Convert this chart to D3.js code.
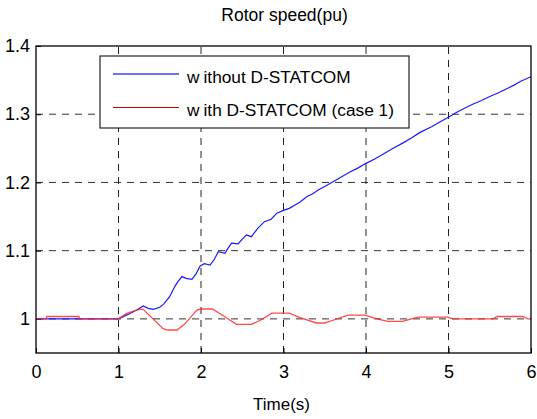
<!DOCTYPE html>
<html>
<head>
<meta charset="utf-8">
<script src="https://cdn.jsdelivr.net/npm/d3@7"></script>
<style>
  body { margin: 0; background: #fff; }
  text { font-family: "Liberation Sans", Arial, sans-serif; fill: #000; }
</style>
</head>
<body>
<div class="chart"></div>
<script>
// data
const timeBlue  = [0, 1.0, 1.07, 1.14, 1.22, 1.30, 1.36, 1.42, 1.50, 1.55, 1.62, 1.68, 1.72, 1.77, 1.82, 1.89, 1.94, 1.99, 2.04, 2.11, 2.16, 2.21, 2.29, 2.33, 2.37, 2.45, 2.50, 2.55, 2.61, 2.69, 2.77, 2.85, 2.92, 3.0, 3.07, 3.14, 3.21, 3.28, 3.35, 3.42, 3.5, 3.6, 3.7, 3.8, 3.9, 4.0, 4.1, 4.2, 4.33, 4.45, 4.55, 4.65, 4.8, 4.9, 5.0, 5.1, 5.2, 5.3, 5.4, 5.5, 5.6, 5.7, 5.8, 5.87, 6.0];
const speedBlue = [1.0, 1.0, 1.004, 1.008, 1.013, 1.019, 1.0155, 1.014, 1.017, 1.022, 1.0325, 1.047, 1.0545, 1.062, 1.0595, 1.058, 1.066, 1.0775, 1.081, 1.079, 1.087, 1.0985, 1.096, 1.104, 1.111, 1.11, 1.117, 1.123, 1.1205, 1.133, 1.1425, 1.146, 1.155, 1.159, 1.162, 1.167, 1.172, 1.179, 1.183, 1.189, 1.194, 1.201, 1.208, 1.215, 1.221, 1.228, 1.234, 1.241, 1.25, 1.258, 1.265, 1.273, 1.282, 1.289, 1.2955, 1.303, 1.309, 1.315, 1.32, 1.326, 1.331, 1.337, 1.343, 1.348, 1.355];

const timeRed  = [0, 0.12, 0.13, 0.52, 0.53, 1.0, 1.1, 1.2, 1.26, 1.3, 1.54, 1.60, 1.71, 1.8, 1.95, 2.0, 2.14, 2.25, 2.43, 2.61, 2.72, 2.86, 3.07, 3.2, 3.4, 3.5, 3.6, 3.78, 3.99, 4.1, 4.26, 4.44, 4.63, 4.99, 5.05, 5.54, 5.59, 5.9, 5.96, 6.0];
const speedRed = [1.0, 1.0, 1.0035, 1.0035, 1.0, 1.0, 1.008, 1.012, 1.0140, 1.0140, 0.9856, 0.9837, 0.9837, 0.992, 1.013, 1.0145, 1.0145, 1.006, 0.992, 0.992, 0.998, 1.0085, 1.0085, 1.002, 0.994, 0.994, 0.998, 1.0056, 1.0056, 1.001, 0.9965, 0.9965, 1.0025, 1.0025, 1.0, 1.0, 1.0035, 1.0035, 1.0, 1.0];

const xTicks = [0, 1, 2, 3, 4, 5, 6];
const yTicks = [1, 1.1, 1.2, 1.3, 1.4];
const seriesNames = ["without D-STATCOM", "with D-STATCOM (case 1)"];

// chart setup
let margin = {top: 46, right: 6, left: 36, bottom: 66};
let outWidth = 537, outHeight = 419;
let width = outWidth - margin.left - margin.right,
    height = outHeight - margin.top - margin.bottom;

const svg = d3.select(".chart").append("svg")
    .attr("width", outWidth)
    .attr("height", outHeight);

const g = svg.append("g")
    .attr("transform", `translate(${margin.left}, ${margin.top})`);

let xScale = d3.scaleLinear().domain([0, 6]).range([0, width]);
let yScale = d3.scaleLinear().domain([0.95, 1.4]).range([height, 0]);

// dashed grid
g.append("g").selectAll("line")
    .data(xTicks.slice(1, -1))
    .enter().append("line")
    .attr("x1", d => xScale(d)).attr("x2", d => xScale(d))
    .attr("y1", height).attr("y2", 0)
    .attr("stroke", "#222").attr("stroke-dasharray", "7,6");

g.append("g").selectAll("line")
    .data(yTicks.slice(0, -1))
    .enter().append("line")
    .attr("x1", 0).attr("x2", width)
    .attr("y1", d => yScale(d)).attr("y2", d => yScale(d))
    .attr("stroke", "#333").attr("stroke-dasharray", "7,6");

// axes, ticks inside like matlab
const xAxis = d3.axisBottom(xScale).tickValues(xTicks).tickSize(-5).tickPadding(12).tickFormat(d3.format("d"));
const yAxis = d3.axisLeft(yScale).tickValues(yTicks).tickSize(-5).tickPadding(6).tickFormat(d => d === 1 ? "1" : d3.format(".1f")(d));

g.append("g")
    .attr("transform", `translate(0, ${height})`)
    .call(xAxis)
    .call(a => a.select(".domain").remove());
g.append("g")
    .call(yAxis)
    .call(a => a.select(".domain").remove());

g.selectAll(".tick text")
    .attr("font-size", 18)
    .attr("font-family", "Liberation Sans, Arial, sans-serif")
    .attr("fill", "#000");
g.selectAll(".tick line").attr("stroke", "#000");

// lines
g.append("clipPath").attr("id", "clip")
    .append("rect").attr("width", width).attr("height", height);

const line = d3.line()
    .x(d => xScale(d[0]))
    .y(d => yScale(d[1]));

g.append("path")
    .datum(d3.zip(timeBlue, speedBlue))
    .attr("d", line)
    .attr("clip-path", "url(#clip)")
    .attr("fill", "none")
    .attr("stroke", "#1a1aff")
    .attr("stroke-width", 1.2);

g.append("path")
    .datum(d3.zip(timeRed, speedRed))
    .attr("d", line)
    .attr("clip-path", "url(#clip)")
    .attr("fill", "none")
    .attr("stroke", "#ff2a2a")
    .attr("stroke-opacity", 0.85)
    .attr("stroke-width", 1.3);

// box
g.append("rect")
    .attr("width", width).attr("height", height)
    .attr("fill", "none").attr("stroke", "#000").attr("stroke-width", 1.3);

// legend
const legend = svg.append("g").attr("transform", "translate(100, 56)");
legend.append("rect")
    .attr("width", 309).attr("height", 72)
    .attr("fill", "#fff").attr("stroke", "#222").attr("stroke-width", 1.2);

const legColors = ["#6f6fff", "#c80000"];
const legWidths = [2, 1];
seriesNames.forEach((name, i) => {
    const yy = 18 + i * 33;
    legend.append("line")
        .attr("x1", 13).attr("x2", 79)
        .attr("y1", yy + i * 0.5).attr("y2", yy + i * 0.5)
        .attr("stroke", legColors[i]).attr("stroke-width", legWidths[i]);
    // matlab leaves a gap after the first "w"
    const t = legend.append("text")
        .attr("x", 87).attr("y", yy + 9)
        .attr("font-size", 17.3);
    t.append("tspan").text(name.slice(0, 1));
    t.append("tspan").attr("dx", 4).text(name.slice(1));
});

// title and x label
svg.append("text")
    .attr("x", margin.left + width / 2 + 1).attr("y", 21)
    .attr("text-anchor", "middle").attr("font-size", 17.5)
    .text("Rotor speed(pu)");

svg.append("text")
    .attr("x", margin.left + width / 2 - 2).attr("y", 410)
    .attr("text-anchor", "middle").attr("font-size", 17)
    .text("Time(s)");
</script>
</body>
</html>
